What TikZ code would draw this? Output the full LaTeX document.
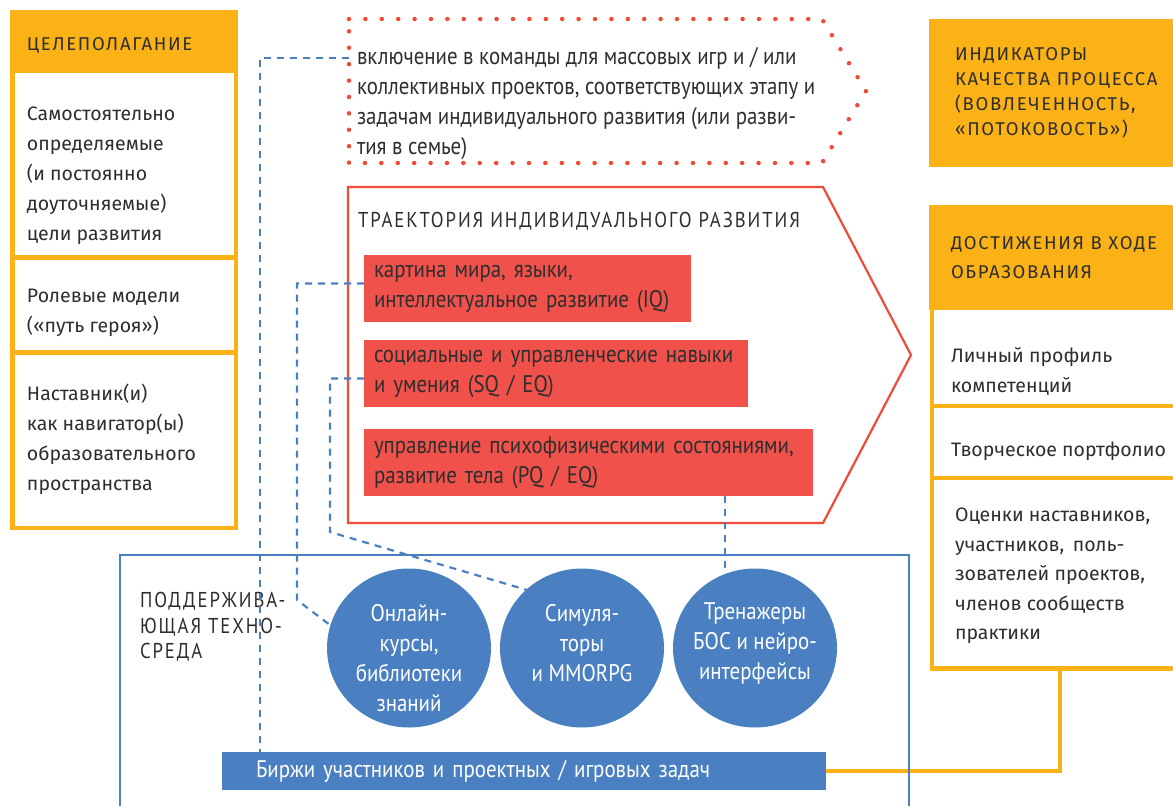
\documentclass[tikz,border=0pt]{standalone}
\usepackage{fontspec}
\usetikzlibrary{shapes.geometric}
\setmainfont{Fira Sans}
\newfontfamily\narrowf{PT Sans}[FakeStretch=0.87]
\newfontfamily\capsf{Fira Sans}[LetterSpace=9]
\newfontfamily\narrowcapsf{PT Sans}[FakeStretch=0.87,LetterSpace=9]
\definecolor{myorange}{HTML}{FBB216}
\definecolor{myredfill}{HTML}{F0524B}
\definecolor{myredline}{HTML}{EE4B38}
\definecolor{myblue}{HTML}{4A80C2}
\definecolor{textdark}{HTML}{2E2E2E}
\begin{document}
\begin{tikzpicture}[x=1pt,y=-1pt,
  every node/.style={inner sep=0pt, outer sep=0pt, text=textdark},
  bluedash/.style={draw=myblue, line width=2.2pt, dash pattern=on 7pt off 6pt},
  obox/.style={draw=myorange, line width=4.5pt},
  body/.style={anchor=west, align=left, font=\fontsize{19.5}{30}\selectfont},
  title/.style={anchor=west, align=left, font=\capsf\fontsize{18.5}{25}\selectfont},
  narrowtxt/.style={anchor=west, align=left, font=\narrowf\fontsize{24}{30}\selectfont},
  redbox/.style={fill=myredfill, anchor=north west, inner xsep=10pt, align=left,
     font=\narrowf\fontsize{24}{30}\selectfont},
  bubble/.style={ellipse, fill=myblue, minimum width=164pt, minimum height=159pt},
  bubtxt/.style={align=center, text=white, font=\narrowf\fontsize{24}{30}\selectfont}
]
\useasboundingbox (0,0) rectangle (1173,806);
\clip (0,0) rectangle (1173,806);

% ---------- left column ----------
\fill[myorange] (10,10) rectangle (238,73);
\draw[obox] (12.25,12.25) rectangle (235.75,528);
\draw[obox] (12,257.5) -- (236,257.5);
\draw[obox] (12,352.5) -- (236,352.5);
\node[title] (goalT) at (27,45) {ЦЕЛЕПОЛАГАНИЕ};
\node[body] (goal1) at (27,176) {Самостоятельно\\определяемые\\(и постоянно\\доуточняемые)\\цели развития};
\node[body] (goal2) at (27,313) {Ролевые модели\\(«путь героя»)};
\node[body] (goal3) at (27,439) {Наставник(и)\\как навигатор(ы)\\образовательного\\пространства};

% ---------- right column ----------
\fill[myorange] (929,19) rectangle (1180,167);
\node[title, font=\capsf\fontsize{18.5}{25}\selectfont] (indT) at (955,93) {ИНДИКАТОРЫ\\КАЧЕСТВА ПРОЦЕССА\\(ВОВЛЕЧЕННОСТЬ,\\«ПОТОКОВОСТЬ»)};

\fill[myorange] (929,205) rectangle (1180,310);
\draw[obox] (931.75,207) rectangle (1185,668.5);
\draw[obox] (931,406) -- (1180,406);
\draw[obox] (931,478) -- (1180,478);
\coordinate (achB) at (1060,670.5);
\node[title, font=\capsf\fontsize{18.5}{29}\selectfont] (achT) at (951,258) {ДОСТИЖЕНИЯ В ХОДЕ\\ОБРАЗОВАНИЯ};
\node[body] (ach1) at (951,371) {Личный профиль\\компетенций};
\node[body] (ach2) at (951,451) {Творческое портфолио};
\node[body, font=\fontsize{19.5}{29.5}\selectfont] (ach3) at (955,576) {Оценки наставников,\\участников,\, поль-\\зователей проектов,\\членов сообществ\\практики};

% ---------- dotted box ----------
\draw[myredline, line width=4.5pt, line cap=round, dash pattern=on 0pt off 16.4pt]
  (349,19) -- (822,19) -- (866,91) -- (822,163) -- (349,163) -- cycle;
\node[narrowtxt] (teams) at (357,104) {включение в команды для массовых игр и / или\\коллективных проектов, соответствующих этапу и\\задачам индивидуального развития (или разви-\\тия в семье)};
\coordinate (teamsL) at (349,58);

% ---------- trajectory ----------
\draw[myredline, line width=2.2pt] (348,187) -- (823,187) -- (911,355) -- (823,523) -- (348,523) -- cycle;
\node[anchor=west, font=\narrowcapsf\fontsize{21.5}{25}\selectfont] (trajT) at (358,221) {ТРАЕКТОРИЯ ИНДИВИДУАЛЬНОГО РАЗВИТИЯ};
\node[redbox, minimum width=327pt, minimum height=67pt, text width=307pt] (r1) at (364,255)
  {картина мира, языки,\\интеллектуальное развитие (IQ)};
\node[redbox, minimum width=384pt, minimum height=67pt, text width=364pt] (r2) at (364,340)
  {социальные и управленческие навыки\\и умения (SQ / EQ)};
\node[redbox, minimum width=449pt, minimum height=67pt, text width=429pt] (r3) at (364,429)
  {управление психофизическими состояниями,\\развитие тела (PQ / EQ)};

% ---------- support environment ----------
\node[fill=myblue, anchor=north west, minimum width=604pt, minimum height=38pt,
  text width=536pt, inner xsep=34pt, align=left, text=white,
  font=\narrowf\fontsize{24}{30}\selectfont] (bar) at (222,752)
  {Биржи участников и проектных / игровых задач};

% orange connector
\draw[myorange, line width=4.5pt] (bar.east) -| (achB);

\draw[myblue, line width=2pt] (120,830) -- (120,555) -- (909,555) -- (909,830);
\node[anchor=west, align=left, font=\narrowcapsf\fontsize{21.5}{25.5}\selectfont] (suppT) at (140,627)
  {ПОДДЕРЖИВА-\\ЮЩАЯ ТЕХНО-\\СРЕДА};

% dashed connectors
\coordinate (xa) at (260,0);
\coordinate (xd) at (725,0);
\coordinate (c1) at (409,648);
\coordinate (c2) at (582,648);
\coordinate (c3) at (755,648);
\draw[bluedash] (teamsL) -| (xa |- bar.north);
\draw[bluedash] ([yshift=5pt]r1.west) -| (297,600) -- (330,625);
\draw[bluedash] ([yshift=-5pt]r2.west) -| (330,532) -- (527,590);
\draw[bluedash] (xd |- r3.south) -- (725,590);

% bubbles
\node[bubble] (b1) at (c1) {};
\node[bubble] (b2) at (c2) {};
\node[bubble] (b3) at (c3) {};
\node[bubtxt] (b1t) at (409,658) {Онлайн-\\курсы,\\библиотеки\\знаний};
\node[bubtxt] (b2t) at (582,643) {Симуля-\\торы\\и MMORPG};
\node[bubtxt] (b3t) at (755,643) {Тренажеры\\БОС и нейро-\\интерфейсы};
\end{tikzpicture}
\end{document}
